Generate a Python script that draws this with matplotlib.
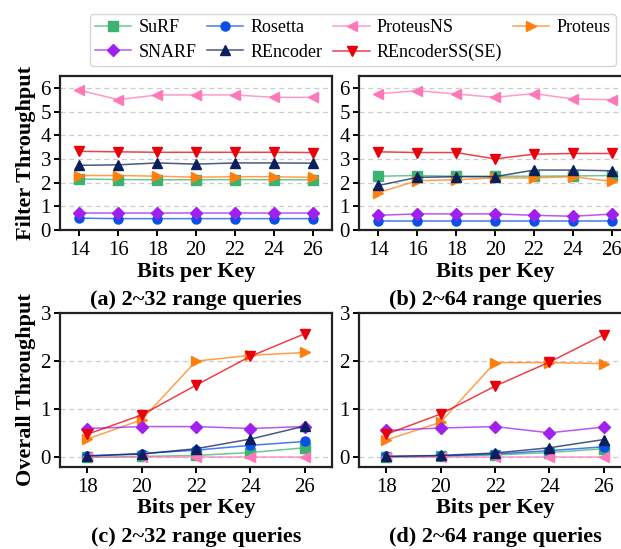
import matplotlib
matplotlib.use("Agg")
import matplotlib.pyplot as plt
from matplotlib.colors import to_rgba

plt.rcParams['font.family'] = ['Liberation Serif', 'DejaVu Serif']

names = ["SuRF", "Rosetta", "ProteusNS", "Proteus", "SNARF", "REncoder", "REncoderSS(SE)"]
colors = ["#3CB371", "#0A4FE6", "#FF78B8", "#FF7F0E", "#A020F0", "#0B1F5C", "#E8000B"]
markers = ["s", "o", "<", ">", "D", "^", "v"]

bits_top = [14, 16, 18, 20, 22, 24, 26]
bits_bot = [18, 20, 22, 24, 26]

filter_32 = {
    "SuRF":           [2.15, 2.13, 2.12, 2.12, 2.13, 2.12, 2.12],
    "Rosetta":        [0.50, 0.48, 0.48, 0.48, 0.48, 0.48, 0.48],
    "ProteusNS":      [5.90, 5.50, 5.70, 5.70, 5.70, 5.60, 5.60],
    "Proteus":        [2.30, 2.30, 2.27, 2.23, 2.25, 2.25, 2.22],
    "SNARF":          [0.70, 0.70, 0.70, 0.70, 0.70, 0.70, 0.70],
    "REncoder":       [2.73, 2.75, 2.83, 2.78, 2.83, 2.83, 2.82],
    "REncoderSS(SE)": [3.32, 3.30, 3.28, 3.28, 3.28, 3.28, 3.27],
}
filter_64 = {
    "SuRF":           [2.27, 2.30, 2.27, 2.27, 2.27, 2.28, 2.30],
    "Rosetta":        [0.38, 0.38, 0.38, 0.38, 0.38, 0.38, 0.38],
    "ProteusNS":      [5.75, 5.88, 5.74, 5.60, 5.76, 5.53, 5.50],
    "Proteus":        [1.58, 2.08, 2.12, 2.20, 2.20, 2.25, 2.05],
    "SNARF":          [0.62, 0.68, 0.68, 0.68, 0.62, 0.58, 0.67],
    "REncoder":       [1.88, 2.22, 2.25, 2.25, 2.53, 2.53, 2.50],
    "REncoderSS(SE)": [3.30, 3.27, 3.27, 3.00, 3.20, 3.23, 3.23],
}
overall_32 = {
    "SuRF":           [0.00, 0.02, 0.04, 0.10, 0.20],
    "Rosetta":        [0.03, 0.08, 0.15, 0.25, 0.33],
    "ProteusNS":      [0.00, 0.00, 0.00, 0.00, 0.00],
    "Proteus":        [0.38, 0.78, 2.00, 2.12, 2.18],
    "SNARF":          [0.60, 0.64, 0.64, 0.60, 0.64],
    "REncoder":       [0.03, 0.07, 0.18, 0.38, 0.65],
    "REncoderSS(SE)": [0.48, 0.88, 1.50, 2.10, 2.57],
}
overall_64 = {
    "SuRF":           [0.00, 0.02, 0.05, 0.10, 0.18],
    "Rosetta":        [0.02, 0.03, 0.07, 0.14, 0.22],
    "ProteusNS":      [0.00, 0.00, 0.00, 0.00, 0.00],
    "Proteus":        [0.36, 0.73, 1.97, 1.97, 1.95],
    "SNARF":          [0.56, 0.61, 0.64, 0.51, 0.63],
    "REncoder":       [0.02, 0.04, 0.09, 0.20, 0.37],
    "REncoderSS(SE)": [0.48, 0.90, 1.48, 1.98, 2.55],
}

captions = ["(a) 2~32 range queries", "(b) 2~64 range queries",
            "(c) 2~32 range queries", "(d) 2~64 range queries"]

fig = plt.figure(figsize=(6.21, 5.49), dpi=100)
W, H = 621.0, 549.0
def rect(x0, x1, ytop, ybot):
    return [x0 / W, 1 - ybot / H, (x1 - x0) / W, (ybot - ytop) / H]

ax_a = fig.add_axes(rect(60, 332, 76, 230))
ax_b = fig.add_axes(rect(359, 631, 76, 230))
ax_c = fig.add_axes(rect(60, 332, 313, 467))
ax_d = fig.add_axes(rect(359, 631, 313, 467))

panels = [(ax_a, bits_top, filter_32), (ax_b, bits_top, filter_64),
          (ax_c, bits_bot, overall_32), (ax_d, bits_bot, overall_64)]

handles = {}
for i, (ax, xs, data) in enumerate(panels):
    for name, c, m in zip(names, colors, markers):
        h, = ax.plot(xs, data[name], color=to_rgba(c, 0.75), lw=1.1,
                     marker=m, markersize=6.5, markerfacecolor=c,
                     markeredgecolor=c, label=name)
        handles[name] = h
    ax.grid(axis='y', linestyle=(0, (4, 3)), color='#cccccc', lw=0.9)
    ax.set_axisbelow(True)
    for s in ax.spines.values():
        s.set_linewidth(1.6)
        s.set_color('#222222')
    ax.tick_params(axis='both', labelsize=15, width=1.4, length=4, direction='out')
    ax.tick_params(axis='x', pad=4)
    ax.tick_params(axis='y', pad=2.5)
    ax.set_xlabel("Bits per Key", fontsize=16, fontweight='bold', labelpad=1)
    ax.text(0.5, -0.455, captions[i], transform=ax.transAxes,
            ha='center', va='center', fontsize=16, fontweight='bold')
    ax.set_xticks(xs)
    if i < 2:
        ax.set_xlim(13, 27)
        ax.set_ylim(0, 6.5)
        ax.set_yticks([0, 1, 2, 3, 4, 5, 6])
    else:
        ax.set_xlim(17, 27)
        ax.set_ylim(-0.2, 3)
        ax.set_yticks([0, 1, 2, 3])

ax_a.set_ylabel("Filter Throughput", fontsize=16, fontweight='bold', labelpad=3)
ax_c.set_ylabel("Overall Throughput", fontsize=16, fontweight='bold', labelpad=3)

order = ["SuRF", "SNARF", "Rosetta", "REncoder", "ProteusNS", "REncoderSS(SE)", "Proteus"]
leg = fig.legend([handles[n] for n in order], order, loc='upper center',
                 bbox_to_anchor=(0.568, 0.991), ncol=4, fontsize=13,
                 frameon=True, fancybox=True, edgecolor='#cccccc',
                 handlelength=2.0, handletextpad=0.4, columnspacing=0.6,
                 labelspacing=0.4, borderpad=0.3)

fig.savefig("out.png", dpi=100)
